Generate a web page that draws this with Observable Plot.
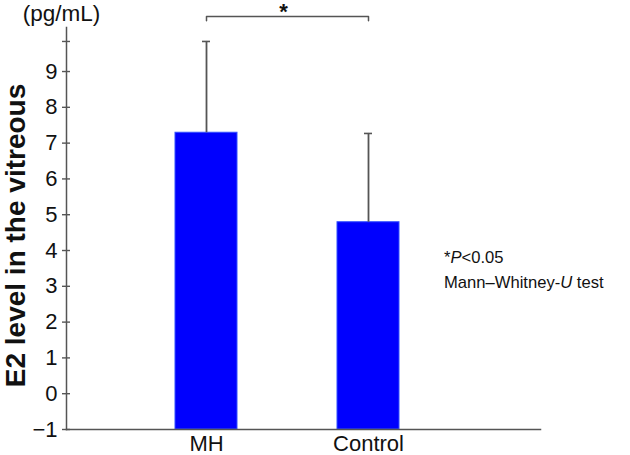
<!DOCTYPE html>
<html>
<head>
<meta charset="utf-8">
<script src="https://cdn.jsdelivr.net/npm/d3@7"></script>
<script src="https://cdn.jsdelivr.net/npm/@observablehq/plot@0.6"></script>
<style>
  html, body { margin: 0; padding: 0; background: #fff; }
  #chart { position: relative; width: 630px; height: 455px; }
  svg { font-family: "Liberation Sans", Arial, sans-serif; }
</style>
</head>
<body>
<div id="chart"></div>
<script>
// ---- data ----
const groups = ["MH", "Control"];
const means = [7.29, 4.79];
const sds = [2.55, 2.48];
const yTicks = [-1, 0, 1, 2, 3, 4, 5, 6, 7, 8, 9];
const yExtraTick = [9.84];
const bracketLow = 10.42;
const bracketHigh = 10.54;
const yLabel = "E2 level in the vitreous";
const unitLabel = "(pg/mL)";
const sigMark = "*";

const data = groups.map((g, i) => ({group: g, mean: means[i], sd: sds[i], top: means[i] + sds[i]}));
const bracket = [
  {x: groups[0], y: bracketLow},
  {x: groups[0], y: bracketHigh},
  {x: groups[1], y: bracketHigh},
  {x: groups[1], y: bracketLow}
];

const axisColor = "#555";

const plot = Plot.plot({
  width: 630,
  height: 455,
  marginLeft: 66,
  marginRight: 90,
  marginTop: 27,
  marginBottom: 26,
  style: {fontFamily: "'Liberation Sans', Arial, sans-serif", background: "#fff", color: "#111"},
  x: {domain: groups, paddingInner: 0.62, paddingOuter: 0.764, align: 0.434, label: null},
  y: {domain: [-1, 10.23], label: null},
  marks: [
    Plot.barY(data, {x: "group", y1: -1, y2: "mean", fill: "#0000fe", stroke: "#3350ff", strokeWidth: 1}),
    Plot.ruleX(data, {x: "group", y1: "mean", y2: "top", stroke: axisColor, strokeWidth: 1.8}),
    Plot.tickY(data, {x: "group", y: "top", stroke: axisColor, strokeWidth: 1.6, insetLeft: 27, insetRight: 27}),
    Plot.frame({anchor: "left", stroke: axisColor, strokeWidth: 1.5}),
    Plot.frame({anchor: "bottom", stroke: axisColor, strokeWidth: 1.5}),
    Plot.axisY([...yTicks, ...yExtraTick], {tickSize: 8, dx: 4, tickFormat: () => "", stroke: axisColor, strokeWidth: 1.4}),
    Plot.axisY(yTicks, {tickSize: 0, tickPadding: 9, fontSize: 22, fill: "#111"}),
    Plot.axisX({tickSize: 0, tickPadding: 6, fontSize: 22, fill: "#111"}),
    Plot.line(bracket, {x: "x", y: "y", stroke: axisColor, strokeWidth: 1.5}),
    Plot.text([sigMark], {x: () => groups[0], y: () => bracketHigh, dx: 77, dy: -4, fontSize: 22, fontWeight: "bold", fill: "#111"}),
    Plot.text([unitLabel], {frameAnchor: "top-left", textAnchor: "middle", lineAnchor: "middle", dx: -5, dy: -14, fontSize: 22.5, fill: "#111"}),
    Plot.text([yLabel], {frameAnchor: "left", rotate: -90, textAnchor: "middle", lineAnchor: "middle", dx: -50, dy: 7, fontSize: 28, fontWeight: "bold", fill: "#111"})
  ]
});

document.getElementById("chart").appendChild(plot);

// annotation with italic parts
const svg = d3.select(plot);
const note = svg.append("g")
  .attr("font-size", 16.6)
  .attr("fill", "#111")
  .attr("text-anchor", "start")
  .attr("font-family", "'Liberation Sans', Arial, sans-serif");
const l1 = note.append("text").attr("x", 444).attr("y", 263);
l1.append("tspan").text("*");
l1.append("tspan").attr("font-style", "italic").text("P");
l1.append("tspan").text("<0.05");
const l2 = note.append("text").attr("x", 444).attr("y", 288);
l2.append("tspan").text("Mann\u2013Whitney-");
l2.append("tspan").attr("font-style", "italic").text("U");
l2.append("tspan").text(" test");
</script>
</body>
</html>
